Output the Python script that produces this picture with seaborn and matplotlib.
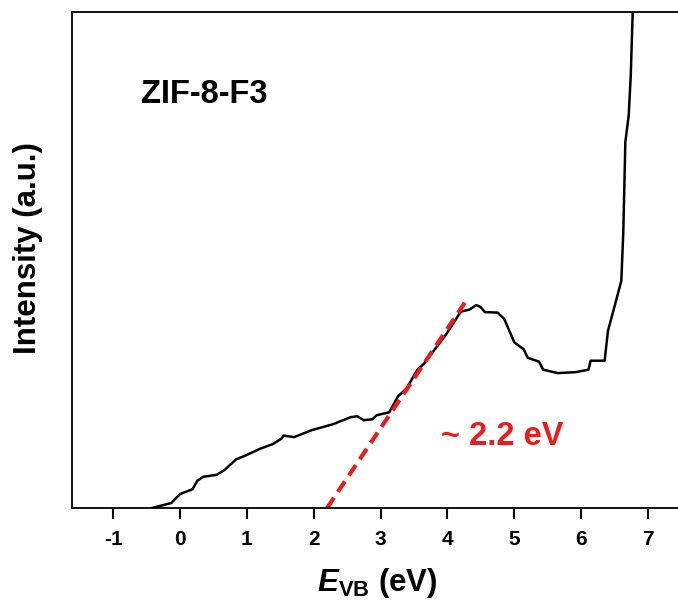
import matplotlib
matplotlib.use("Agg")
import matplotlib.pyplot as plt
import seaborn as sns
import pandas as pd

sns.set_theme(style="white")
plt.rcParams['font.family'] = ['Liberation Sans', 'DejaVu Sans']
plt.rcParams['font.weight'] = 'bold'
plt.rcParams['text.color'] = 'black'
plt.rcParams['axes.labelcolor'] = 'black'
plt.rcParams['xtick.color'] = 'black'
plt.rcParams['mathtext.fontset'] = 'custom'
plt.rcParams['mathtext.rm'] = 'Liberation Sans:bold'
plt.rcParams['mathtext.bf'] = 'Liberation Sans:bold'
plt.rcParams['mathtext.it'] = 'Liberation Sans:italic:bold'
plt.rcParams['mathtext.bfit'] = 'Liberation Sans:italic:bold'

# spectrum
energy = [-0.42, -0.13, 0.0, 0.19, 0.26, 0.35, 0.55, 0.67, 0.84, 1.0, 1.19, 1.39,
          1.52, 1.55, 1.71, 1.97, 2.29, 2.55, 2.65, 2.75, 2.88, 2.94, 3.13, 3.26,
          3.39, 3.55, 3.65, 3.98, 4.2, 4.33, 4.43, 4.49, 4.56, 4.75, 4.85, 5.0,
          5.14, 5.2, 5.37, 5.43, 5.65, 5.92, 6.11, 6.14, 6.35, 6.4, 6.6, 6.63,
          6.66, 6.71, 6.74, 6.77]
intensity = [0.0, 1.0, 2.8, 3.8, 5.5, 6.3, 6.7, 7.7, 9.8, 10.7, 11.9, 12.9,
             14.0, 14.6, 14.3, 15.7, 16.9, 18.3, 18.5, 17.7, 17.9, 18.7, 19.3, 22.5,
             24.1, 27.9, 29.1, 35.0, 39.6, 40.0, 40.9, 40.6, 39.5, 39.4, 38.1, 33.4,
             32.0, 30.3, 29.5, 27.9, 27.2, 27.4, 27.9, 29.7, 29.7, 35.7, 45.8, 55.9,
             73.8, 79.2, 86.9, 100.0]

# linear extrapolation of the valence band edge
fit_x = [2.2, 4.26]
fit_y = [0.0, 41.4]

xticks = [-1, 0, 1, 2, 3, 4, 5, 6, 7]

df = pd.DataFrame({"E": energy, "I": intensity})
fit = pd.DataFrame({"E": fit_x, "I": fit_y})

fig = plt.figure(figsize=(6.78, 6.03), dpi=100)
ax = fig.add_axes([0.1062, 0.1575, 0.9, 0.8226])

sns.lineplot(data=df, x="E", y="I", ax=ax, color="black", linewidth=1.8,
             sort=False, estimator=None)
sns.lineplot(data=fit, x="E", y="I", ax=ax, color="#ec1c1c", linewidth=3.0,
             sort=False, estimator=None, linestyle=(0, (3.0, 1.7)))

ax.set_xlim(-1.613, 7.51)
ax.set_ylim(0, 100)
ax.set_xticks(xticks)
ax.set_xticklabels([str(t) for t in xticks], fontsize=15, fontweight='bold')
ax.set_yticks([])
ax.tick_params(axis='x', direction='out', length=8, width=1.5, pad=8,
               bottom=True, color='black', labelcolor='black')
for s in ['left', 'bottom', 'top']:
    ax.spines[s].set_color('black')
    ax.spines[s].set_linewidth(1.3)
ax.spines['right'].set_visible(False)

ax.set_xlabel(r'$\mathbfit{E}_{\mathbf{VB}}$ (eV)', fontsize=22.5, fontweight='bold',
              labelpad=12, color='black')
ax.set_ylabel('Intensity (a.u.)', fontsize=22.5, fontweight='bold', labelpad=21,
              color='black')
ax.yaxis.label.set_y(0.525)

ax.text(-0.58, 83.3, 'ZIF-8-F3', fontsize=23.5, fontweight='bold', color='black',
        va='center', ha='left')
ax.text(3.9, 14.5, '~ 2.2 eV', fontsize=23.5, fontweight='bold', color='#ec1c1c',
        va='center', ha='left')

fig.savefig("out.png", dpi=100)
